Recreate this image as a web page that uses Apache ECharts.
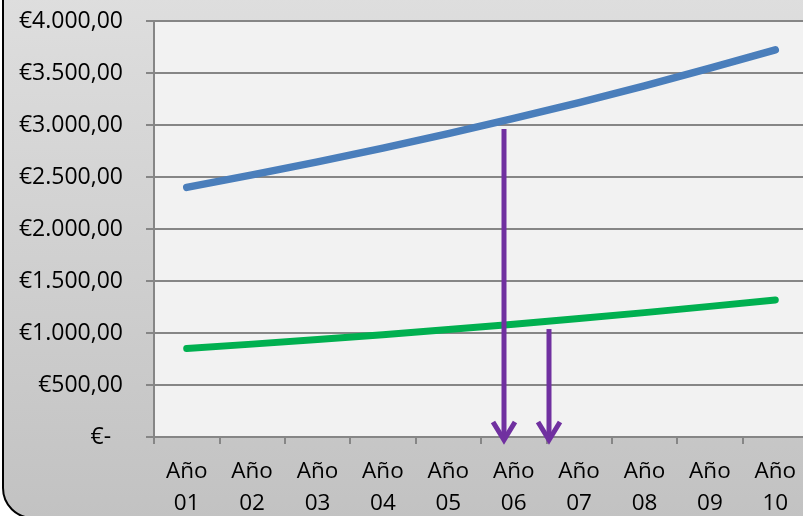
<!DOCTYPE html>
<html>
<head>
<meta charset="utf-8">
<script src="https://cdn.jsdelivr.net/npm/echarts@6/dist/echarts.min.js"></script>
<style>
  html, body { margin: 0; padding: 0; background: #ffffff; }
  #chart { width: 803px; height: 516px; }
</style>
</head>
<body>
<div id="chart"></div>
<script>
// Categories (years) and series values
const years = ['Año 01', 'Año 02', 'Año 03', 'Año 04', 'Año 05', 'Año 06', 'Año 07', 'Año 08', 'Año 09', 'Año 10'];
const upperSeries = [2400, 2520, 2646, 2778, 2917, 3063, 3216, 3377, 3546, 3723];
const lowerSeries = [850, 893, 937, 984, 1033, 1085, 1139, 1196, 1256, 1318];
// Downward arrows: [position in category units, start value, tip value]
const arrows = [
  [4.857, 2962, -48],
  [5.546, 1038, -48]
];
const yTicks = [0, 500, 1000, 1500, 2000, 2500, 3000, 3500, 4000];

function euro(v) {
  if (v === 0) return '€-  ';
  const parts = v.toFixed(2).split('.');
  const intPart = parts[0].replace(/\B(?=(\d{3})+(?!\d))/g, '.');
  return '€' + intPart + ',' + parts[1];
}

const FONT = '"Open Sans", sans-serif';
const chart = echarts.init(document.getElementById('chart'), null, { renderer: 'canvas' });

chart.setOption({
  animation: false,
  backgroundColor: '#ffffff',
  graphic: [{
    type: 'rect',
    z: -10,
    silent: true,
    shape: { x: 3, y: -40, width: 900, height: 558, r: 30 },
    style: {
      fill: new echarts.graphic.LinearGradient(0, 0, 0, 1, [
        { offset: 0, color: '#e0e0e0' },
        { offset: 1, color: '#c2c2c2' }
      ]),
      stroke: '#000000',
      lineWidth: 2
    }
  }],
  grid: {
    left: 154, right: -5, top: 21, bottom: 79,
    show: true, backgroundColor: '#f2f2f2', borderWidth: 0,
    containLabel: false, outerBoundsMode: 'none'
  },
  xAxis: [{
    type: 'category',
    data: years,
    boundaryGap: true,
    axisLine: { lineStyle: { color: '#868686', width: 2 } },
    axisTick: { show: true, length: 7, alignWithLabel: false, lineStyle: { color: '#868686', width: 2 } },
    axisLabel: {
      interval: 0,
      color: '#000000',
      fontFamily: FONT,
      fontSize: 22.5,
      lineHeight: 32,
      margin: 19,
      formatter: v => v.replace(' ', '\n')
    },
    splitLine: { show: false }
  }, {
    type: 'value',
    min: -0.5, max: 9.5,
    show: false
  }],
  yAxis: {
    type: 'value',
    min: 0, max: 4000, interval: 500,
    axisLine: { show: true, onZero: false, lineStyle: { color: '#868686', width: 2 } },
    axisTick: { show: true, length: 8, lineStyle: { color: '#868686', width: 2 } },
    axisLabel: {
      color: '#000000',
      fontFamily: FONT,
      fontSize: 23,
      margin: 31,
      formatter: v => euro(v)
    },
    splitLine: { show: true, lineStyle: { color: '#868686', width: 2 } }
  },
  series: [{
    type: 'line',
    data: upperSeries,
    symbol: 'none',
    lineStyle: { color: '#4a7ebb', width: 7.5, cap: 'round', join: 'round' },
    z: 3
  }, {
    type: 'line',
    data: lowerSeries,
    symbol: 'none',
    lineStyle: { color: '#00b050', width: 7, cap: 'round', join: 'round' },
    z: 3
  }, {
    type: 'custom',
    xAxisIndex: 1,
    clip: false,
    z: 5,
    data: arrows,
    renderItem: function (params, api) {
      const top = api.coord([api.value(0), api.value(1)]);
      const tip = api.coord([api.value(0), api.value(2)]);
      const x = Math.round(top[0]);
      const style = { stroke: '#7030a0', lineWidth: 5, fill: 'none', lineCap: 'butt', lineJoin: 'miter' };
      return {
        type: 'group',
        children: [{
          type: 'line',
          shape: { x1: x, y1: top[1], x2: x, y2: tip[1] - 3 },
          style: style
        }, {
          type: 'polyline',
          shape: { points: [[x - 11, tip[1] - 20], [x, tip[1] - 2], [x + 11, tip[1] - 20]] },
          style: Object.assign({}, style, { lineWidth: 5 })
        }]
      };
    }
  }]
});
</script>
</body>
</html>
